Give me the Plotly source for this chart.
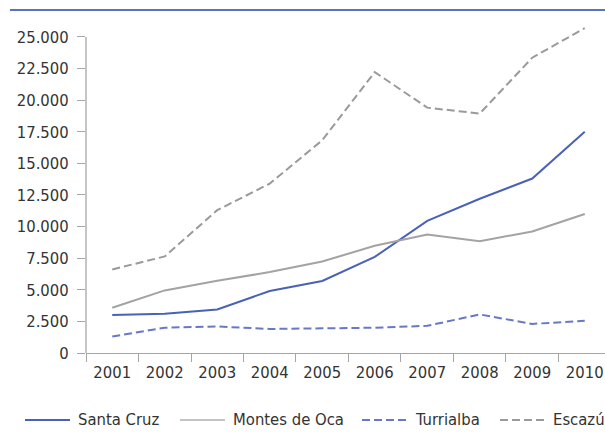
import plotly.graph_objects as go

# Series data
years = ["2001", "2002", "2003", "2004", "2005", "2006", "2007", "2008", "2009", "2010"]
santa_cruz = [3000, 3100, 3450, 4900, 5700, 7600, 10450, 12200, 13800, 17500]
montes_de_oca = [3580, 4950, 5710, 6400, 7240, 8480, 9380, 8850, 9610, 11000]
turrialba = [1300, 2000, 2100, 1900, 1950, 2000, 2150, 3050, 2300, 2550]
escazu = [6610, 7640, 11300, 13400, 16830, 22220, 19410, 18940, 23360, 25700]

y_ticks = [0, 2500, 5000, 7500, 10000, 12500, 15000, 17500, 20000, 22500, 25000]
y_tick_text = ["0", "2.500", "5.000", "7.500", "10.000", "12.500", "15.000",
               "17.500", "20.000", "22.500", "25.000"]

series_names = ["Santa Cruz", "Montes de Oca", "Turrialba", "Escazú"]
series_values = [santa_cruz, montes_de_oca, turrialba, escazu]
series_colors = ["#4a62b4", "#a3a3a3", "#6678c6", "#9a9a9a"]
legend_colors = ["#4a62b4", "#c4c4c4", "#6678c6", "#9a9a9a"]
series_dash = ["solid", "solid", "8px,4px", "8px,4px"]

FONT = "DejaVu Sans Condensed, sans-serif"
TEXT = "#333333"
FS = 16.5

fig = go.Figure()
for name, vals, col, dash in zip(series_names, series_values, series_colors, series_dash):
    fig.add_trace(go.Scatter(
        x=years, y=vals, mode="lines", name=name,
        line=dict(color=col, width=2, dash=dash),
        showlegend=False, cliponaxis=False,
    ))

# Hand-placed legend row along the bottom
legend_x = [25, 180, 362, 500]
shapes = []
annotations = []
for lx, name, col, dash in zip(legend_x, series_names, legend_colors, series_dash):
    shapes.append(dict(type="line", xref="paper", yref="paper",
                       x0=(lx - 86) / 519, x1=(lx + 45 - 86) / 519,
                       y0=(353 - 420) / 335.5, y1=(353 - 420) / 335.5,
                       line=dict(color=col, width=2, dash=dash)))
    annotations.append(dict(xref="paper", yref="paper",
                            x=(lx + 51 - 86) / 519, y=(353 - 420) / 335.5,
                            xanchor="left", yanchor="middle", showarrow=False,
                            text=name, font=dict(family=FONT, size=FS, color=TEXT)))

# Vertical axis line stopping at the top tick
shapes.append(dict(type="line", xref="paper", yref="y", x0=0, x1=0, y0=0, y1=25000,
                   line=dict(color="#a6a6a6", width=1.3)))
# Rule across the top of the page
shapes.append(dict(type="line", xref="paper", yref="paper",
                   x0=(10 - 86) / 519, x1=1, y0=(353 - 9.5) / 335.5, y1=(353 - 9.5) / 335.5,
                   line=dict(color="#5a72c0", width=2)))

fig.update_layout(
    width=605, height=447,
    margin=dict(l=86, r=0, t=17.5, b=94),
    paper_bgcolor="white", plot_bgcolor="white",
    font=dict(family=FONT, size=FS, color=TEXT),
    shapes=shapes, annotations=annotations,
    xaxis=dict(type="category", range=[-0.5, 9.386], tickson="boundaries",
               showline=True, linecolor="#a6a6a6", linewidth=1.3,
               ticks="outside", ticklen=8, tickcolor="#a6a6a6", tickwidth=1.3,
               showgrid=False, zeroline=False, ticklabelstandoff=4,
               tickfont=dict(family=FONT, size=FS, color=TEXT)),
    yaxis=dict(range=[0, 26500], tickvals=y_ticks, ticktext=y_tick_text,
               ticks="outside", ticklen=8, tickcolor="#a6a6a6", tickwidth=1.3,
               showline=False, showgrid=False, zeroline=False,
               ticklabelstandoff=5,
               tickfont=dict(family=FONT, size=FS, color=TEXT)),
)

fig.write_html("out.html")
